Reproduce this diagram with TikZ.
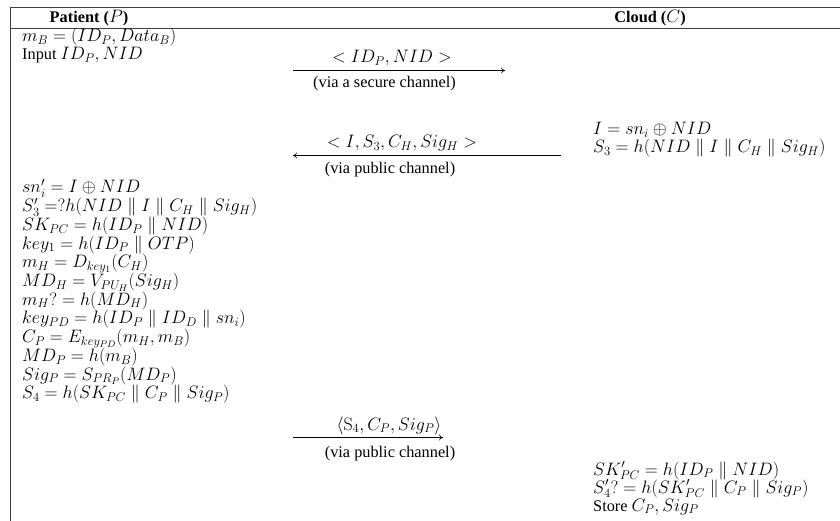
\RequirePackage{fix-cm}
\documentclass[tikz,border=0pt]{standalone}
\usepackage[no-math]{fontspec}
\setmainfont{Liberation Serif}
\DeclareMathSizes{16.3}{18}{12.6}{9.5}
\usetikzlibrary{arrows.meta}
\tikzset{
  txt/.style={anchor=base west, inner sep=0pt, font=\fontsize{16.3}{18}\selectfont},
  lbl/.style={anchor=base, inner sep=0pt, font=\fontsize{16.3}{18}\selectfont},
  hdr/.style={anchor=base, inner sep=0pt, font=\fontsize{16.3}{18}\selectfont\bfseries},
  rule/.style={line width=0.9pt, draw=black!75},
  msg/.style={line width=0.55pt, -{To[length=4pt,width=6pt]}}
}
\begin{document}
\begin{tikzpicture}[x=1pt,y=-1pt]
\useasboundingbox (0,0) rectangle (840,521);
% table rules
\draw[rule] (10,7.5) -- (840,7.5);
\draw[rule] (10,28) -- (840,28);
\draw[rule] (10,7.5) -- (10,521);
% headers
\node[hdr] (hP) at (89,22.5) {Patient ($P$)};
\node[hdr] (hC) at (650,22.5) {Cloud ($C$)};
% patient, first block
\node[txt] (q1) at (22,42) {$m_B = (ID_P, Data_B)$};
\node[txt] (q2) at (22,59.5) {Input $ID_P, NID$};
% message 1
\coordinate (a1s) at (293,70.5);
\coordinate (a1e) at (505,70.5);
\draw[msg] (a1s) -- (a1e);
\node[lbl] (m1) at (392,63) {$< ID_P, NID >$};
\node[lbl] (v1) at (384.5,88) {(via a secure channel)};
% cloud, first block
\node[txt] (c1) at (593,135) {$I = sn_i \oplus NID$};
\node[txt] (c2) at (593,153) {$S_3 = h(NID \parallel I \parallel C_H \parallel Sig_H)$};
% message 2
\coordinate (a2s) at (561,155.5);
\coordinate (a2e) at (293,155.5);
\draw[msg] (a2s) -- (a2e);
\node[lbl] (m2) at (402,148) {$< I, S_3, C_H, Sig_H >$};
\node[lbl] (v2) at (390,174) {(via public channel)};
% patient, second block
\foreach \t [count=\i] in {
  {$sn_i' = I \oplus NID$},
  {$S_3' =?h(NID \parallel I \parallel C_H \parallel Sig_H)$},
  {$SK_{PC} = h(ID_P \parallel NID)$},
  {$key_1 = h(ID_P \parallel OTP)$},
  {$m_H = D_{key_1}(C_H)$},
  {$MD_H = V_{PU_H}(Sig_H)$},
  {$m_H? = h(MD_H)$},
  {$key_{PD} = h(ID_P \parallel ID_D \parallel sn_i)$},
  {$C_P = E_{key_{PD}}(m_H, m_B)$},
  {$MD_P = h(m_B)$},
  {$Sig_P = S_{PR_P}(MD_P)$},
  {$S_4 = h(SK_{PC} \parallel C_P \parallel Sig_P)$}}
  \node[txt] (p\i) at (22,{193+18.7*(\i-1)}) {\t};
% message 3
\coordinate (a3s) at (293,437.5);
\coordinate (a3e) at (443,437.5);
\draw[msg] (a3s) -- (a3e);
\node[lbl] (m3) at (389,430) {$\langle \mathrm{S}_4, C_P, Sig_P\rangle$};
\node[lbl] (v3) at (390,457) {(via public channel)};
% cloud, second block
\node[txt] (c3) at (593,475) {$SK_{PC}' = h(ID_P \parallel NID)$};
\node[txt] (c4) at (593,493) {$S_4'? = h(SK_{PC}' \parallel C_P \parallel Sig_P)$};
\node[txt] (c5) at (593,511) {Store $C_P, Sig_P$};
\end{tikzpicture}
\end{document}
